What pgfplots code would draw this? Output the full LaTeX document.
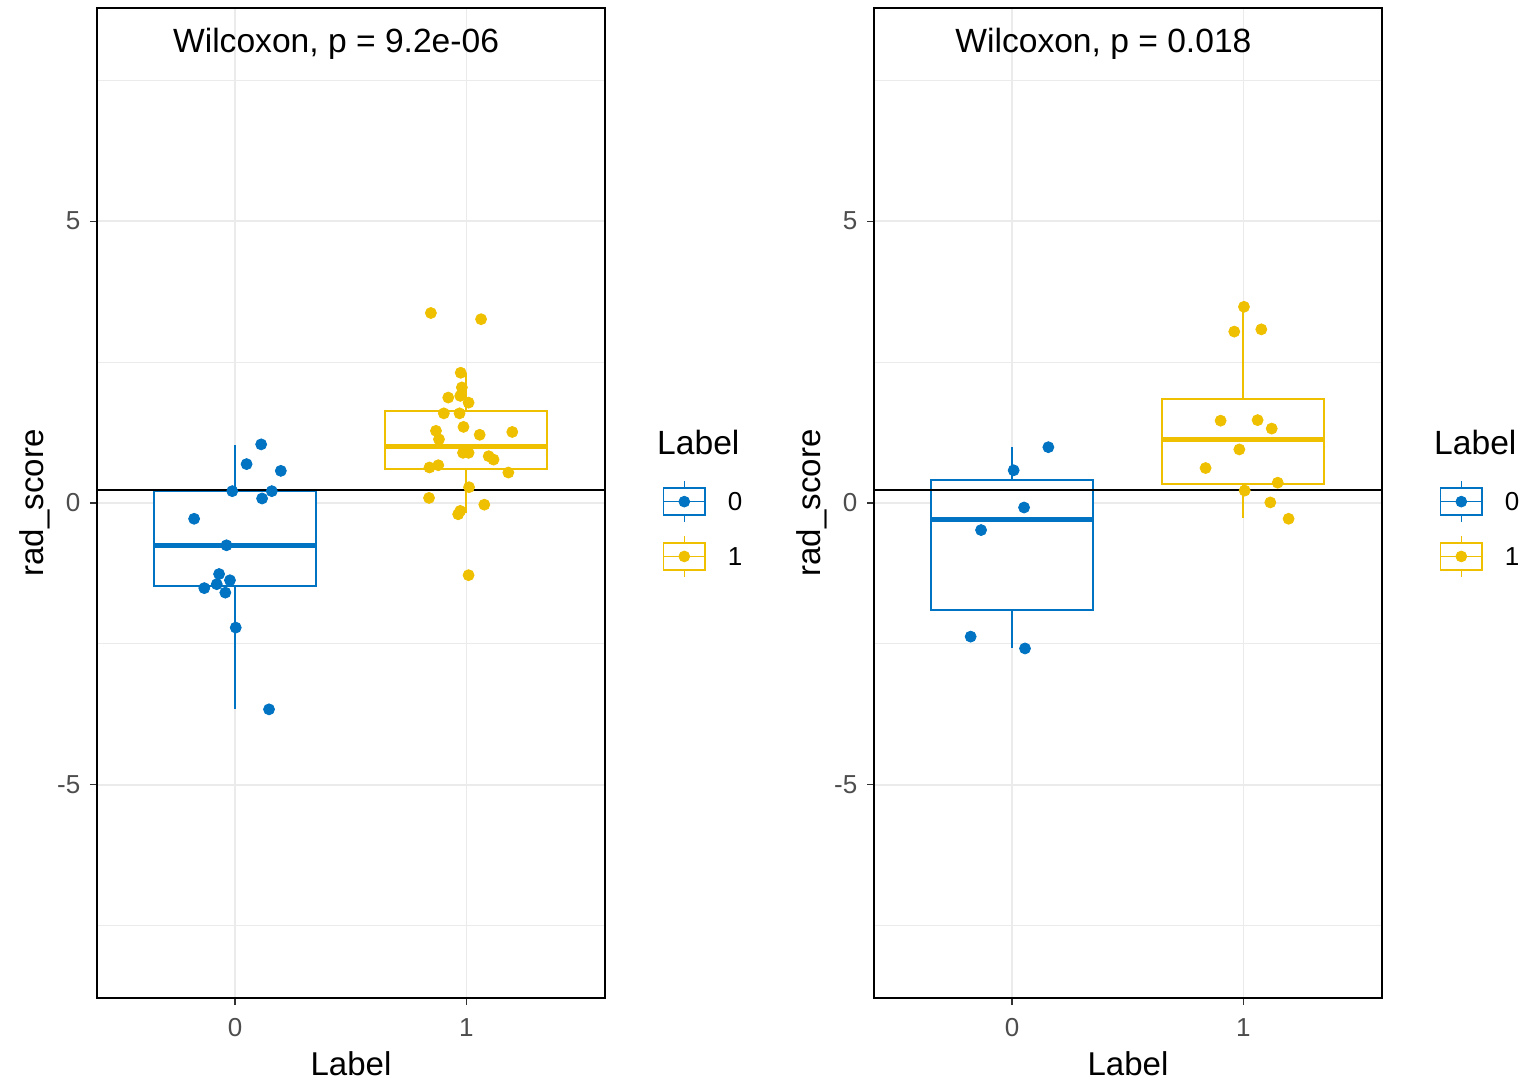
\documentclass[border=0pt]{standalone}
\usepackage{fontspec}
\setmainfont{Liberation Sans}
\usepackage{pgfplots}
\pgfplotsset{compat=1.18}
\usepgfplotslibrary{statistics}
\definecolor{jcoblue}{HTML}{0073C2}
\definecolor{jcoyellow}{HTML}{EFC000}
\definecolor{gridc}{HTML}{EBEBEB}
\definecolor{ticklab}{HTML}{4D4D4D}
\definecolor{tickc}{HTML}{333333}
\pgfplotsset{
  panel/.style={
    scale only axis, width=254pt, height=495pt, anchor=south west,
    clip mode=individual,
    xmin=-0.597, xmax=1.6, ymin=-8.78, ymax=8.78,
    xtick={0,1}, ytick={-5,0,5}, minor ytick={-7.5,-2.5,2.5,7.5},
    grid=both,
    major grid style={gridc, line width=0.7pt},
    minor grid style={gridc, line width=0.45pt},
    tick align=outside, tick pos=left,
    major tick length=3.5pt, minor tick length=0pt,
    tick style={tickc, line width=0.6pt},
    axis line style={black, line width=0.7pt},
    /pgf/number format/assume math mode=true,
    ticklabel style={font=\fontsize{13}{15}\selectfont, text=ticklab},
    yticklabel style={anchor=east, inner sep=0pt, xshift=-4.65pt},
    xticklabel style={anchor=north, inner sep=0pt, yshift=-6.7pt},
    xlabel={Label}, ylabel={rad\_score},
    label style={font=\fontsize{16.5}{19}\selectfont},
    xlabel style={at={(axis description cs:0.5,-0.0778)}, anchor=base, inner sep=0pt},
    ylabel style={at={(axis description cs:-0.1063,0.5)}, anchor=base, inner sep=0pt},
    legend style={at={(axis description cs:1.1136,0.5232)}, anchor=north west,
      draw=none, fill=none, inner sep=0pt, outer sep=0pt,
      row sep=5.8pt, column sep=11pt,
      nodes={inner sep=0pt, text depth=0pt},
      font=\fontsize{13}{15}\selectfont},
    legend cell align=left,
  },
  keyimg/.style={legend image code/.code={
    \draw[#1, line width=0.8pt, fill=white] (0pt,-6.75pt) rectangle (20.8pt,6.75pt);
    \draw[#1, line width=0.8pt] (0pt,0pt) -- (20.8pt,0pt);
    \draw[#1, line width=0.8pt] (10.4pt,6.75pt) -- (10.4pt,10.4pt) (10.4pt,-6.75pt) -- (10.4pt,-10.4pt);
    \fill[#1] (10.4pt,0pt) circle (2.7pt);
  }},
  bp/.style={line width=0.9pt, forget plot,
    boxplot/draw direction=y,
    boxplot/every box/.style={fill=white},
    boxplot/every median/.style={line width=2.5pt}},
  pts/.style={only marks, mark=*, mark size=2.75pt, forget plot},
}
\begin{document}
\begin{tikzpicture}
\useasboundingbox (0,0) rectangle (767.5pt,541pt);
% ---------------- left panel ----------------
\begin{axis}[panel, at={(48.5pt,42pt)}]
\addplot[jcoblue, bp, boxplot prepared={draw position=0, box extend=0.70, whisker extend=0,
  median=-0.76, upper quartile=0.21, lower quartile=-1.47, upper whisker=1.03, lower whisker=-3.66}] coordinates {};
\addplot[jcoyellow, bp, boxplot prepared={draw position=1, box extend=0.70, whisker extend=0,
  median=1.01, upper quartile=1.63, lower quartile=0.60, upper whisker=2.31, lower whisker=-0.18}] coordinates {};
\addplot[black, line width=1.1pt, forget plot] coordinates {(-0.597,0.23) (1.6,0.23)};
\addplot[jcoblue, pts] coordinates {
(0.113,1.04) (0.050,0.69) (0.198,0.57) (-0.012,0.21) (0.159,0.21) (0.117,0.08)
(-0.177,-0.28) (-0.037,-0.75) (-0.069,-1.26) (-0.022,-1.37) (-0.079,-1.44)
(-0.133,-1.51) (-0.042,-1.59) (0.003,-2.21) (0.147,-3.66)};
\addplot[jcoyellow, pts] coordinates {
(0.847,3.37) (1.064,3.26) (0.976,2.31) (0.981,2.05) (0.974,1.90) (0.922,1.87)
(1.010,1.78) (0.903,1.59) (0.971,1.59) (0.988,1.35) (0.869,1.28) (1.058,1.21)
(1.199,1.26) (0.882,1.13) (0.986,0.89) (1.010,0.89) (1.097,0.83) (1.118,0.77)
(0.841,0.63) (0.879,0.67) (1.182,0.54) (1.012,0.28) (0.839,0.09) (1.078,-0.03)
(0.974,-0.14) (0.965,-0.20) (1.010,-1.28)};
\addlegendimage{keyimg=jcoblue}\addlegendentry{0}
\addlegendimage{keyimg=jcoyellow}\addlegendentry{1}
\node[anchor=base west, inner sep=0pt, font=\fontsize{16.8}{19}\selectfont] at (axis description cs:0.149,0.955) {Wilcoxon, p = 9.2e-06};
\node[anchor=base west, inner sep=0pt, font=\fontsize{16.8}{19}\selectfont] at (axis description cs:1.102,0.5485) {Label};
\end{axis}
% ---------------- right panel ----------------
\begin{axis}[panel, at={(437pt,42pt)}]
\addplot[jcoblue, bp, boxplot prepared={draw position=0, box extend=0.70, whisker extend=0,
  median=-0.29, upper quartile=0.41, lower quartile=-1.90, upper whisker=0.99, lower whisker=-2.58}] coordinates {};
\addplot[jcoyellow, bp, boxplot prepared={draw position=1, box extend=0.70, whisker extend=0,
  median=1.13, upper quartile=1.85, lower quartile=0.34, upper whisker=3.48, lower whisker=-0.27}] coordinates {};
\addplot[black, line width=1.1pt, forget plot] coordinates {(-0.597,0.23) (1.6,0.23)};
\addplot[jcoblue, pts] coordinates {
(0.157,0.99) (0.007,0.58) (0.052,-0.08) (-0.134,-0.48) (-0.179,-2.37) (0.056,-2.58)};
\addplot[jcoyellow, pts] coordinates {
(1.003,3.48) (0.961,3.04) (1.078,3.08) (0.902,1.46) (1.062,1.47) (1.123,1.32)
(0.983,0.95) (0.837,0.62) (1.149,0.36) (1.006,0.22) (1.117,0.01) (1.196,-0.28)};
\addlegendimage{keyimg=jcoblue}\addlegendentry{0}
\addlegendimage{keyimg=jcoyellow}\addlegendentry{1}
\node[anchor=base west, inner sep=0pt, font=\fontsize{16.8}{19}\selectfont] at (axis description cs:0.1594,0.955) {Wilcoxon, p = 0.018};
\node[anchor=base west, inner sep=0pt, font=\fontsize{16.8}{19}\selectfont] at (axis description cs:1.102,0.5485) {Label};
\end{axis}
\end{tikzpicture}
\end{document}
